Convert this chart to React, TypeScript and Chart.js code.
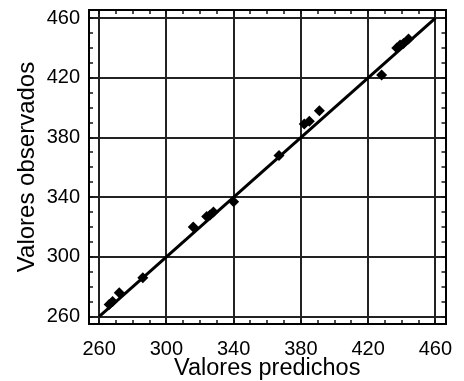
import React, { useEffect, useRef } from "react";
import { Chart, registerables } from "chart.js";

Chart.register(...registerables);

const predicted = [266, 268, 272, 286, 316, 324, 326, 328, 340, 367, 382, 385, 391, 428, 437, 439, 441, 444];
const observed = [268, 270, 276, 286, 320, 327, 328, 330, 337, 368, 389, 391, 398, 422, 440, 442, 443, 446];
const fitX = [260, 460];
const fitY = [260, 460];
const majorTicks = [260, 300, 340, 380, 420, 460];
const minorStep = 10;
const xRange = [254, 466];
const yRange = [255, 465.5];

const FONT = "'Liberation Sans', Arial, sans-serif";

function allTicks() {
  const out: { value: number }[] = [];
  for (let v = majorTicks[0]; v <= majorTicks[majorTicks.length - 1]; v += minorStep) out.push({ value: v });
  return out;
}
const isMajor = (v: number) => majorTicks.includes(v);

function makeScale(axis: "x" | "y", position: string, primary: boolean, size: number) {
  const range = axis === "x" ? xRange : yRange;
  return {
    type: "linear",
    axis,
    position,
    min: range[0],
    max: range[1],
    afterBuildTicks: (s: any) => {
      s.ticks = allTicks();
    },
    afterFit: (s: any) => {
      if (axis === "x") s.height = size;
      else s.width = size;
      s.paddingLeft = 0;
      s.paddingRight = 0;
      s.paddingTop = 0;
      s.paddingBottom = 0;
    },
    border: { display: true, color: "#000", width: 2 },
    grid: {
      display: true,
      drawOnChartArea: primary,
      drawTicks: true,
      tickLength: -4,
      tickWidth: 1.5,
      tickColor: "#111",
      lineWidth: 2,
      color: (c: any) => (c.tick && isMajor(c.tick.value) ? "#222" : "rgba(0,0,0,0)"),
    },
    ticks: {
      display: primary,
      autoSkip: false,
      maxRotation: 0,
      minRotation: 0,
      padding: axis === "x" ? 17 : 13,
      color: "#000",
      font: { family: FONT, size: 20 },
      callback: (v: any) => (isMajor(Number(v)) ? String(v) : ""),
    },
    title: primary
      ? {
          display: true,
          text: axis === "x" ? "Valores predichos" : "Valores observados",
          color: "#000",
          font: { family: FONT, size: axis === "x" ? 23.5 : 24 },
          padding: axis === "x" ? { top: 0, bottom: -2 } : { top: 13, bottom: 0 },
        }
      : { display: false },
  };
}

export default function App() {
  const ref = useRef<HTMLCanvasElement>(null);
  useEffect(() => {
    if (!ref.current) return;
    const chart = new Chart(ref.current, {
      type: "scatter",
      data: {
        datasets: [
          {
            type: "line",
            data: fitX.map((x, i) => ({ x, y: fitY[i] })),
            borderColor: "#000",
            borderWidth: 3,
            pointRadius: 0,
            fill: false,
          } as any,
          {
            type: "scatter",
            data: predicted.map((x, i) => ({ x, y: observed[i] })),
            pointStyle: "rectRot",
            pointRadius: 5.5,
            backgroundColor: "#000",
            borderColor: "#000",
            borderWidth: 0,
          },
        ],
      },
      options: {
        responsive: false,
        maintainAspectRatio: false,
        animation: false,
        layout: { padding: { top: 10, right: 18.5, left: 0, bottom: 0 } },
        plugins: { legend: { display: false }, tooltip: { enabled: false } },
        scales: {
          x: makeScale("x", "bottom", true, 57),
          y: makeScale("y", "left", true, 89),
          x2: makeScale("x", "top", false, 0),
          y2: makeScale("y", "right", false, 0),
        } as any,
      },
    });
    return () => chart.destroy();
  }, []);
  return (
    <div style={{ position: "absolute", left: 0, top: 0, width: 464, height: 381, background: "#fff" }}>
      <canvas ref={ref} width={464} height={381} style={{ width: 464, height: 381, display: "block" }} />
    </div>
  );
}
